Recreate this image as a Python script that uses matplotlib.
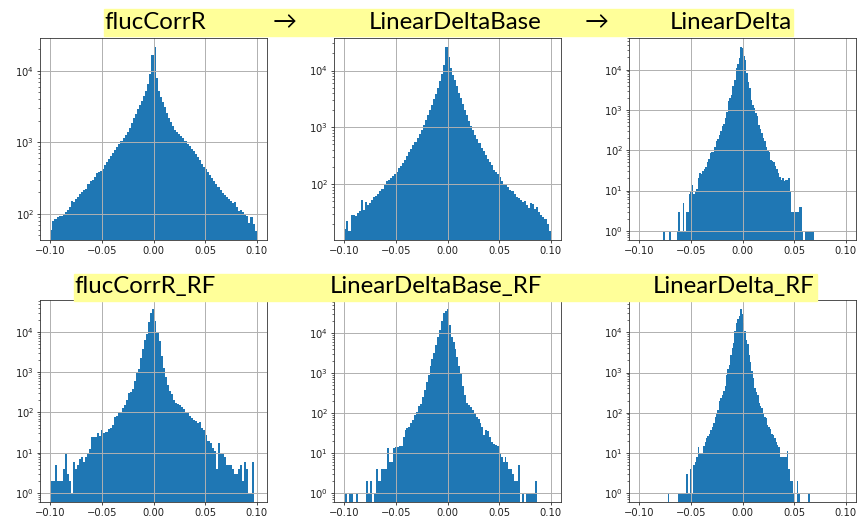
import numpy as np
import matplotlib
matplotlib.use("Agg")
import matplotlib.pyplot as plt
from matplotlib.patches import Rectangle

# bin counts (100 bins per panel)
flucCorrR = [60, 80, 85, 90, 92, 95, 100, 105, 115, 125,
             150, 145, 160, 175, 190, 200, 215, 225, 260, 285,
             300, 330, 370, 385, 400, 420, 480, 540, 580, 640,
             720, 780, 860, 950, 1050, 1150, 1250, 1420, 1600, 1900,
             2200, 2500, 2900, 3300, 3800, 4500, 5300, 6500, 9000, 16500,
             21500, 8000, 5200, 4300, 3700, 3100, 2600, 2200, 1950, 1700,
             1500, 1400, 1300, 1220, 1150, 1050, 960, 900, 820, 750,
             680, 620, 560, 500, 460, 420, 380, 345, 320, 290,
             260, 240, 215, 195, 185, 175, 160, 150, 140, 145,
             125, 110, 112, 105, 97, 95, 75, 90, 72, 58]

linearDeltaBase = [16, 22, 15, 29, 28, 27, 31, 34, 52, 35,
                   48, 42, 46, 52, 58, 62, 68, 74, 82, 98,
                   112, 118, 130, 140, 150, 165, 190, 210, 235, 270,
                   310, 360, 420, 480, 560, 650, 760, 900, 1100, 1350,
                   1650, 2050, 2500, 3100, 3900, 4900, 6500, 8800, 12500, 25800,
                   17000, 11000, 8500, 6700, 5300, 4100, 3300, 2600, 2050, 1650,
                   1300, 1050, 880, 720, 620, 520, 440, 375, 320, 280,
                   240, 215, 180, 160, 150, 135, 115, 100, 98, 88,
                   80, 75, 66, 60, 56, 52, 48, 50, 42, 38,
                   47, 44, 36, 40, 32, 28, 26, 24, 20, 15]

linearDelta = [1, 0, 0, 0, 1, 0, 0, 0, 0, 1,
               3, 1, 1, 5, 1, 3, 3, 8, 9, 14,
               8, 10, 11, 20, 27, 25, 30, 35, 38, 52,
               60, 85, 88, 92, 120, 165, 190, 240, 300, 390,
               450, 630, 900, 1650, 2000, 2400, 4000, 5600, 11000, 14000,
               19500, 36000, 35000, 22000, 17600, 8200, 5000, 3500, 1800, 1300,
               1130, 840, 700, 430, 340, 265, 200, 170, 120, 100,
               92, 57, 55, 52, 40, 35, 27, 22, 18, 20,
               17, 18, 18, 20, 10, 3, 3, 3, 3, 3,
               4, 4, 1, 0, 1, 1, 1, 1, 1, 1]

flucCorrR_RF = [2, 2, 5, 2, 2, 2, 4, 9, 3, 2,
                1, 6, 4, 5, 7, 8, 6, 8, 10, 12,
                24, 25, 24, 30, 26, 36, 30, 33, 38, 42,
                48, 75, 80, 100, 95, 130, 155, 200, 300, 330,
                380, 600, 950, 1200, 2200, 3800, 6500, 9000, 18000, 30000,
                37000, 19000, 10000, 6000, 2600, 1300, 750, 480, 340, 280,
                200, 175, 165, 155, 135, 120, 100, 95, 82, 72,
                64, 60, 54, 58, 40, 36, 27, 19, 17, 13,
                11, 4, 17, 10, 9, 8, 5, 5, 5, 4,
                3, 3, 4, 5, 2, 6, 4, 1, 1, 6]

linearDeltaBase_RF = [1, 0, 1, 1, 0, 0, 1, 0, 0, 0,
                      0, 2, 1, 2, 0, 1, 4, 2, 2, 4,
                      4, 4, 13, 6, 6, 13, 14, 14, 15, 15,
                      25, 37, 41, 45, 55, 65, 90, 105, 150, 170,
                      250, 380, 600, 900, 1500, 2200, 3200, 5000, 8000, 12000,
                      19700, 32000, 35000, 40000, 16000, 8000, 6000, 4000, 2500, 1500,
                      1000, 480, 280, 175, 160, 140, 120, 100, 80, 70,
                      55, 45, 28, 37, 36, 25, 19, 17, 16, 15,
                      10, 8, 6, 8, 6, 4, 4, 3, 2, 2,
                      5, 0, 1, 0, 1, 1, 1, 1, 1, 2]

linearDelta_RF = [1, 0, 0, 0, 0, 0, 0, 1, 1, 1,
                  1, 1, 1, 3, 1, 1, 4, 1, 5, 6,
                  8, 14, 10, 10, 10, 15, 19, 23, 26, 29,
                  37, 45, 54, 80, 100, 116, 190, 230, 275, 350,
                  450, 870, 1200, 1570, 2800, 4000, 5400, 11000, 17600, 21500,
                  25000, 38000, 28000, 17000, 11000, 6500, 5000, 2800, 1800, 1100,
                  730, 410, 330, 275, 170, 150, 128, 96, 80, 72,
                  49, 45, 40, 30, 27, 23, 19, 16, 14, 8,
                  8, 8, 8, 8, 11, 4, 2, 2, 1, 0,
                  0, 2, 1, 0, 0, 0, 0, 0, 0, 1]

# data range (min, max) of each histogram
ranges = [(-0.1, 0.1), (-0.1, 0.1), (-0.0769, 0.0692),
          (-0.0999, 0.0978), (-0.0994, 0.0870), (-0.0724, 0.0650)]
series = [flucCorrR, linearDeltaBase, linearDelta,
          flucCorrR_RF, linearDeltaBase_RF, linearDelta_RF]

top_labels = [("flucCorrR", 104), ("\u2192", 273), ("LinearDeltaBase", 369),
              ("\u2192", 585), ("LinearDelta", 670)]
bottom_labels = [("flucCorrR_RF", 74), ("LinearDeltaBase_RF", 330),
                 ("LinearDelta_RF", 653)]

W, H = 859, 523
fig = plt.figure(figsize=(W / 100, H / 100), dpi=100)

lefts = [40, 334, 629]
tops = [38, 300]
aw, ah = 227, 202

for k, counts in enumerate(series):
    r, c = divmod(k, 3)
    ax = fig.add_axes([lefts[c] / W, 1 - (tops[r] + ah) / H, aw / W, ah / H])
    lo, hi = ranges[k]
    edges = np.linspace(lo, hi, len(counts) + 1)
    ax.hist(edges[:-1], bins=edges, weights=counts, log=True, color="#1f77b4")
    ax.set_xticks([-0.1, -0.05, 0.0, 0.05, 0.1])
    ax.set_xlim(-0.11, 0.11)
    ax.grid(True, color="#b0b0b0", linewidth=0.7)
    ax.tick_params(labelsize=7.2, labelcolor="#222222", length=2.3, width=0.5, pad=2)
    ax.tick_params(which="minor", length=1.4, width=0.4)
    for s in ax.spines.values():
        s.set_linewidth(0.6)
        s.set_color("#333333")

yellow = "#ffff99"
fig.patches.append(Rectangle((104 / W, 1 - 36 / H), (793 - 104) / W, 27 / H,
                             transform=fig.transFigure, color=yellow, zorder=0))
fig.patches.append(Rectangle((74 / W, 1 - 301 / H), (817 - 74) / W, 27 / H,
                             transform=fig.transFigure, color=yellow, zorder=0))

fam = ["Lato", "DejaVu Sans"]
for txt, x in top_labels:
    fig.text(x / W, 1 - 29.5 / H, txt, fontsize=17.3, family=fam, va="baseline")
for txt, x in bottom_labels:
    fig.text(x / W, 1 - 293 / H, txt, fontsize=17.3, family=fam, va="baseline")

fig.savefig("out.png", dpi=100)
